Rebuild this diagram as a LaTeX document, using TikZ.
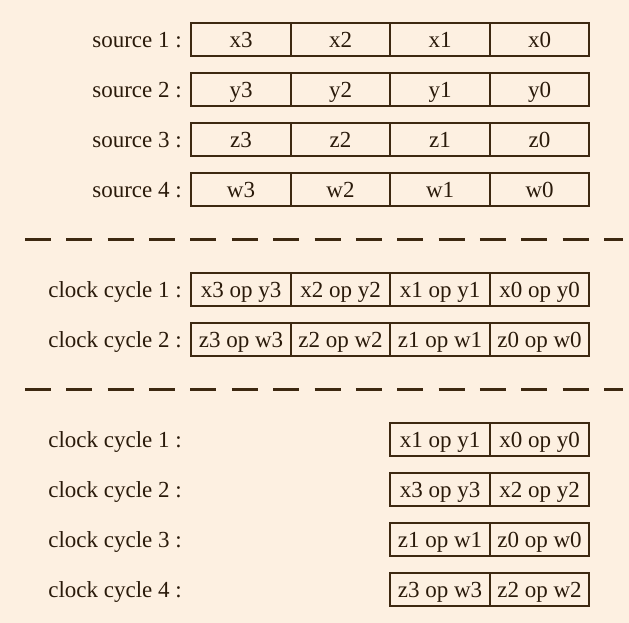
\documentclass[tikz,border=0pt]{standalone}
\usepackage{fontspec}
\setmainfont{Liberation Serif}
\definecolor{bg}{HTML}{FDF0E1}
\definecolor{ink}{HTML}{3D2810}
\definecolor{txt}{HTML}{2A1A0A}
\newcommand{\dfont}{\fontsize{23}{27}\selectfont}
\begin{document}
\begin{tikzpicture}[x=1pt,y=-1pt,
  cell/.style={draw=ink, line width=1.8pt, minimum width=99.5pt, minimum height=32.6pt,
    inner sep=0pt, text height=15.5pt, text depth=0pt, text=txt, font=\dfont},
  lab/.style={anchor=east, inner sep=0pt, text height=15.5pt, text depth=0pt, text=txt, font=\dfont},
  sep/.style={draw=ink, line width=2.5pt, dash pattern=on 26pt off 15.36pt}]
\fill[bg] (0,0) rectangle (629,623);
\useasboundingbox (0,0) rectangle (629,623);
% sources
\foreach \r/\v/\y in {1/x/39.6, 2/y/89.6, 3/z/139.6, 4/w/189.6}{
  \node[lab] (sl\r) at (182,\y) {source \r\ :};
  \node[cell] (s\r c3) at (241.05,\y) {\v3};
  \node[cell] (s\r c2) at (340.55,\y) {\v2};
  \node[cell] (s\r c1) at (440.05,\y) {\v1};
  \node[cell] (s\r c0) at (539.55,\y) {\v0};
}
\coordinate (d1a) at (25,239.3);
\coordinate (d1b) at (623,239.3);
\draw[sep] (d1a) -- (d1b);
% two clock cycles, full width
\foreach \r/\a/\b/\y in {1/x/y/289.6, 2/z/w/339.6}{
  \node[lab] (cl\r) at (182,\y) {clock cycle \r\ :};
  \node[cell] (c\r c3) at (241.05,\y) {\a3 op \b3};
  \node[cell] (c\r c2) at (340.55,\y) {\a2 op \b2};
  \node[cell] (c\r c1) at (440.05,\y) {\a1 op \b1};
  \node[cell] (c\r c0) at (539.55,\y) {\a0 op \b0};
}
\coordinate (d2a) at (25,389.3);
\coordinate (d2b) at (623,389.3);
\draw[sep] (d2a) -- (d2b);
% four clock cycles, half width
\foreach \r/\p/\q/\y in {1/x1 op y1/x0 op y0/439.6, 2/x3 op y3/x2 op y2/489.6,
                         3/z1 op w1/z0 op w0/539.6, 4/z3 op w3/z2 op w2/589.6}{
  \node[lab] (hl\r) at (182,\y) {clock cycle \r\ :};
  \node[cell] (h\r a) at (440.05,\y) {\p};
  \node[cell] (h\r b) at (539.55,\y) {\q};
}
\end{tikzpicture}
\end{document}
